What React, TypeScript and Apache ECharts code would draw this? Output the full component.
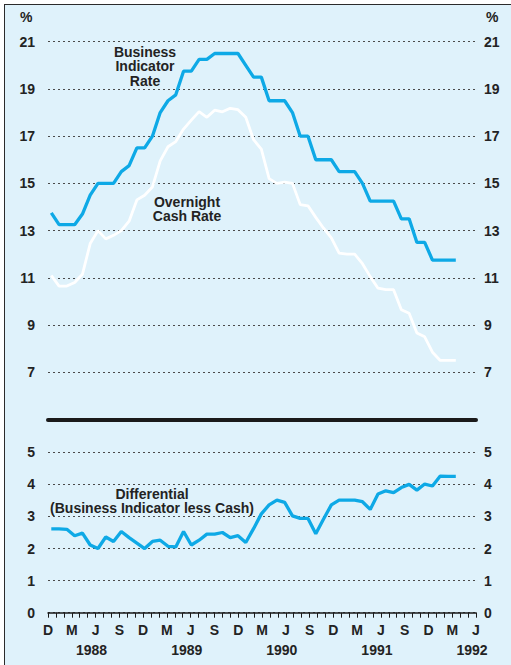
import React, { useEffect, useRef } from "react";
import * as echarts from "echarts";

const months = [
  "Dec 87",
  "Jan 88","Feb 88","Mar 88","Apr 88","May 88","Jun 88","Jul 88","Aug 88","Sep 88","Oct 88","Nov 88","Dec 88",
  "Jan 89","Feb 89","Mar 89","Apr 89","May 89","Jun 89","Jul 89","Aug 89","Sep 89","Oct 89","Nov 89","Dec 89",
  "Jan 90","Feb 90","Mar 90","Apr 90","May 90","Jun 90","Jul 90","Aug 90","Sep 90","Oct 90","Nov 90","Dec 90",
  "Jan 91","Feb 91","Mar 91","Apr 91","May 91","Jun 91","Jul 91","Aug 91","Sep 91","Oct 91","Nov 91","Dec 91",
  "Jan 92","Feb 92","Mar 92","Apr 92",
];

const businessIndicatorRate = [
  13.75, 13.25, 13.25, 13.25, 13.7, 14.5, 15, 15, 15, 15.5, 15.75, 16.5, 16.5, 17, 18, 18.5, 18.75,
  19.75, 19.75, 20.25, 20.25, 20.5, 20.5, 20.5, 20.5, 20, 19.5, 19.5, 18.5, 18.5, 18.5, 18, 17, 17,
  16, 16, 16, 15.5, 15.5, 15.5, 15, 14.25, 14.25, 14.25, 14.25, 13.5, 13.5, 12.5, 12.5, 11.75, 11.75,
  11.75, 11.75,
];

const overnightCashRate = [
  11.1, 10.65, 10.65, 10.8, 11.15, 12.45, 13.0, 12.65, 12.8, 13.0, 13.4, 14.3, 14.5, 14.85, 15.95,
  16.55, 16.77, 17.3, 17.68, 18.04, 17.8, 18.1, 18.03, 18.18, 18.12, 17.8, 16.85, 16.45, 15.2, 15.0,
  15.05, 15.0, 14.1, 14.05, 13.56, 13.1, 12.69, 12.05, 12.0, 12.0, 11.6, 11.05, 10.56, 10.5, 10.5,
  9.65, 9.5, 8.66, 8.5, 7.85, 7.5, 7.5, 7.5,
];

const differential = [
  2.61, 2.61, 2.6, 2.4, 2.48, 2.11, 2.0, 2.36, 2.22, 2.53, 2.34, 2.17, 2.0, 2.22, 2.26, 2.07, 2.05,
  2.53, 2.11, 2.26, 2.45, 2.45, 2.5, 2.34, 2.4, 2.19, 2.62, 3.08, 3.36, 3.51, 3.44, 3.02, 2.94, 2.94,
  2.46, 2.92, 3.36, 3.51, 3.51, 3.51, 3.46, 3.22, 3.7, 3.8, 3.74, 3.9, 4.0, 3.82, 4.01, 3.95, 4.26,
  4.25, 4.25,
];

// quarter letters at every third monthly tick, starting December 1987
const quarterLabels = ["D","M","J","S","D","M","J","S","D","M","J","S","D","M","J","S","D","M","J"];
const yearLabels = ["1988", "1989", "1990", "1991", "1992"];

const FONT = "'Liberation Sans', Arial, Helvetica, sans-serif";
const TEXT = "#232323";
const BLUE = "#0ea9e6";

export default function App() {
  const ref = useRef<HTMLDivElement>(null);

  useEffect(() => {
    if (!ref.current) return;
    const chart = echarts.init(ref.current, undefined, { renderer: "svg" });

    const labelStyle = { color: TEXT, fontSize: 14, fontWeight: "bold" as const, fontFamily: FONT };
    const split = { show: true, lineStyle: { color: "#4a4a4a", type: [2, 3] as any, width: 1.2 } };

    const topGrid = { top: 41.7, height: 377.8 };
    const botGrid = { top: 452.3, height: 160.4 };

    chart.setOption({
      animation: false,
      backgroundColor: "transparent",
      grid: [
        { left: 48, right: 35, ...topGrid },
        { left: 51.3, right: 55.2, ...topGrid },
        { left: 48, right: 35, ...botGrid },
        { left: 51.3, right: 55.2, ...botGrid },
      ],
      xAxis: [
        {
          gridIndex: 0, type: "value", min: 0, max: 54,
          axisLine: { show: true, onZero: false, lineStyle: { color: "#1a1a1a", width: 4 } },
          axisTick: { show: false }, axisLabel: { show: false }, splitLine: { show: false },
        },
        { gridIndex: 1, type: "category", data: months, boundaryGap: false, show: false },
        {
          gridIndex: 2, type: "value", min: 0, max: 54, interval: 1,
          axisLine: { show: true, onZero: false, lineStyle: { color: "#1a1a1a", width: 1.5 } },
          axisTick: { show: true, length: 5, lineStyle: { color: "#1a1a1a", width: 1 } },
          axisLabel: {
            ...labelStyle, margin: 10,
            formatter: (v: number) => {
              const r = Math.round(v);
              return r % 3 === 0 && Math.abs(v - r) < 1e-6 ? quarterLabels[r / 3] || "" : "";
            },
          },
          splitLine: { show: false },
        },
        {
          gridIndex: 2, type: "value", min: 0, max: 54, interval: 0.5, position: "bottom", offset: 20,
          axisLine: { show: false, onZero: false }, axisTick: { show: false }, splitLine: { show: false },
          axisLabel: {
            ...labelStyle, margin: 10,
            formatter: (v: number) => {
              const k = (v - 5.5) / 12;
              const r = Math.round(k);
              return Math.abs(k - r) < 1e-6 ? yearLabels[r] || "" : "";
            },
          },
        },
        { gridIndex: 3, type: "category", data: months, boundaryGap: false, show: false },
      ],
      yAxis: [
        {
          gridIndex: 0, type: "value", min: 5, max: 21, interval: 2, position: "left",
          axisLine: { show: false }, axisTick: { show: false }, splitLine: split,
          axisLabel: { ...labelStyle, margin: 13, formatter: (v: number) => (v === 5 ? "" : String(v)) },
        },
        {
          gridIndex: 0, type: "value", min: 5, max: 21, interval: 2, position: "right",
          axisLine: { show: false }, axisTick: { show: false }, splitLine: { show: false },
          axisLabel: { ...labelStyle, margin: 8, formatter: (v: number) => (v === 5 ? "" : String(v)) },
        },
        { gridIndex: 1, type: "value", min: 5, max: 21, show: false },
        {
          gridIndex: 2, type: "value", min: 0, max: 5, interval: 1, position: "left",
          axisLine: { show: false }, axisTick: { show: false }, splitLine: split,
          axisLabel: { ...labelStyle, margin: 13 },
        },
        {
          gridIndex: 2, type: "value", min: 0, max: 5, interval: 1, position: "right",
          axisLine: { show: false }, axisTick: { show: false }, splitLine: { show: false },
          axisLabel: { ...labelStyle, margin: 8 },
        },
        { gridIndex: 3, type: "value", min: 0, max: 5, show: false },
      ],
      series: [
        {
          name: "Overnight Cash Rate", type: "line", xAxisIndex: 1, yAxisIndex: 2,
          data: overnightCashRate, showSymbol: false, symbol: "none",
          lineStyle: { color: "#ffffff", width: 2.8 },
        },
        {
          name: "Business Indicator Rate", type: "line", xAxisIndex: 1, yAxisIndex: 2,
          data: businessIndicatorRate, showSymbol: false, symbol: "none",
          lineStyle: { color: BLUE, width: 3.3 },
        },
        {
          name: "Differential", type: "line", xAxisIndex: 4, yAxisIndex: 5,
          data: differential, showSymbol: false, symbol: "none",
          lineStyle: { color: BLUE, width: 3.3 },
        },
      ],
      graphic: [
        {
          type: "text", left: 20, top: 10, z: 10,
          style: { text: "%", font: `bold 14px ${FONT}`, fill: TEXT },
        },
        {
          type: "text", left: 486, top: 10, z: 10,
          style: { text: "%", font: `bold 14px ${FONT}`, fill: TEXT },
        },
        {
          type: "text", x: 145, y: 44.5, z: 10,
          style: {
            text: "Business\nIndicator\nRate", font: `bold 14px ${FONT}`, fill: TEXT,
            align: "center", verticalAlign: "top", lineHeight: 14.5,
          },
        },
        {
          type: "text", x: 187, y: 194.7, z: 10,
          style: {
            text: "Overnight\nCash Rate", font: `bold 14px ${FONT}`, fill: TEXT,
            align: "center", verticalAlign: "top", lineHeight: 14.5,
          },
        },
        {
          type: "text", x: 152, y: 486.7, z: 10,
          style: {
            text: "Differential\n(Business Indicator less Cash)", font: `bold 14px ${FONT}`, fill: TEXT,
            align: "center", verticalAlign: "top", lineHeight: 14.5,
          },
        },
      ],
    });

    return () => chart.dispose();
  }, []);

  return (
    <div style={{ position: "fixed", left: 0, top: 0, width: 511, height: 665, overflow: "hidden", background: "#ffffff" }}>
      <div
        style={{
          position: "absolute", left: 4, top: 4, width: 560, height: 700,
          background: "#dff2fb", border: "1.6px solid #2b2b2b", boxSizing: "border-box",
        }}
      />
      <div ref={ref} style={{ position: "absolute", left: 0, top: 0, width: 511, height: 665 }} />
    </div>
  );
}
